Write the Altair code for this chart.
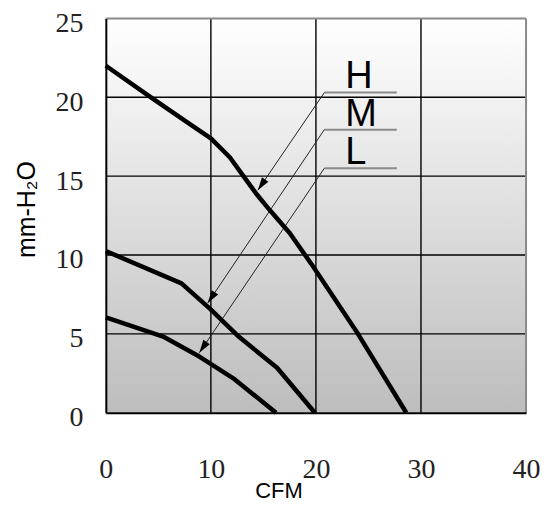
import math
import altair as alt
import pandas as pd

W, H = 421, 395

# fan curves (CFM vs mm-H2O)
h_cfm = [0, 4.5, 8.0, 10.0, 11.8, 13.1, 14.3, 15.6, 17.5, 19.7, 24.0, 28.6]
h_p = [22.0, 19.9, 18.3, 17.4, 16.2, 15.0, 13.9, 12.85, 11.4, 9.3, 5.0, 0.0]
m_cfm = [0, 7.2, 9.9, 12.7, 16.3, 19.9]
m_p = [10.25, 8.2, 6.6, 4.8, 2.85, 0.0]
l_cfm = [0, 5.45, 8.9, 12.1, 16.2]
l_p = [6.05, 4.83, 3.56, 2.2, 0.0]

# annotation labels / leaders
lab_names = ["H", "M", "L"]
lab_x = [22.8, 22.8, 22.8]
lab_y = [20.6, 18.2, 15.8]
lead_x0 = [20.8, 20.8, 20.8]
lead_x1 = [27.7, 27.7, 27.7]
lead_y = [20.3, 17.95, 15.5]
tip_x = [14.47, 9.7, 8.9]
tip_y = [14.11, 6.95, 3.8]

x_ticks = [0, 10, 20, 30, 40]
y_ticks = [0, 5, 10, 15, 20, 25]
x_grid = [10, 20, 30]
y_grid = [5, 10, 15, 20]

curves = pd.DataFrame(
    [{"s": "H", "x": a, "y": b, "o": i} for i, (a, b) in enumerate(zip(h_cfm, h_p))]
    + [{"s": "M", "x": a, "y": b, "o": i} for i, (a, b) in enumerate(zip(m_cfm, m_p))]
    + [{"s": "L", "x": a, "y": b, "o": i} for i, (a, b) in enumerate(zip(l_cfm, l_p))]
)

horiz = pd.DataFrame({"x": lead_x0, "x2": lead_x1, "y": lead_y, "y2": lead_y})
diag = pd.DataFrame({"x": lead_x0, "x2": tip_x, "y": lead_y, "y2": tip_y})

angs = []
for sx, sy, tx, ty in zip(lead_x0, lead_y, tip_x, tip_y):
    dxp = (tx - sx) * W / 40
    dyp = -(ty - sy) * H / 25
    angs.append(math.degrees(math.atan2(dxp, -dyp)) % 360)
heads = pd.DataFrame({"x": tip_x, "y": tip_y, "ang": angs})
labels = pd.DataFrame({"x": lab_x, "y": lab_y, "t": lab_names})

xs = alt.Scale(domain=[0, 40], nice=False, zero=False)
ys = alt.Scale(domain=[0, 25], nice=False, zero=False)

xaxis = alt.Axis(
    values=x_ticks, grid=False, ticks=False, tickSize=0, domainColor="black",
    domainWidth=2, labelFont="Liberation Serif", labelFontSize=28,
    labelColor="#222", labelPadding=65, labelBaseline="alphabetic",
    labelFlush=False, title="CFM", titleFont="Liberation Sans",
    titleFontSize=22, titleFontWeight="normal", titleColor="black",
    titleX=173, titleY=85, titleAlign="center", titleBaseline="alphabetic",
    zindex=1,
)
yaxis = alt.Axis(
    values=y_ticks, grid=False, ticks=False, tickSize=0, domainColor="black",
    domainWidth=2, labelFont="Liberation Serif", labelFontSize=28,
    labelColor="#222", labelPadding=23, labelBaseline="middle", labelOffset=5,
    title="mm-H₂O", titleFont="Liberation Sans", titleFontSize=25,
    titleFontWeight="normal", titleColor="black", titleX=-71, titleY=191,
    titleAngle=270, titleAlign="center", titleBaseline="alphabetic",
    zindex=1,
)

X = alt.X("x:Q", scale=xs, axis=xaxis)
Y = alt.Y("y:Q", scale=ys, axis=yaxis)

grad = alt.LinearGradient(
    gradient="linear",
    stops=[alt.GradientStop(color="#ffffff", offset=0),
           alt.GradientStop(color="#bdbdbd", offset=1)],
    x1=0, x2=0, y1=0, y2=1,
)

bg = alt.Chart(pd.DataFrame({"a": [0]})).mark_rect(fill=grad).encode(
    x=alt.value(0), x2=alt.value(W), y=alt.value(0), y2=alt.value(H)
)
border_top = alt.Chart(pd.DataFrame({"a": [0]})).mark_rule(
    color="#8a8a8a", strokeWidth=2
).encode(x=alt.value(0), x2=alt.value(W), y=alt.value(0))
border_right = alt.Chart(pd.DataFrame({"a": [0]})).mark_rule(
    color="#8a8a8a", strokeWidth=2
).encode(x=alt.value(W), y=alt.value(0), y2=alt.value(H))

vgrid = alt.Chart(pd.DataFrame({"x": x_grid})).mark_rule(
    color="black", strokeWidth=1.4
).encode(x=X)
hgrid = alt.Chart(pd.DataFrame({"y": y_grid})).mark_rule(
    color="black", strokeWidth=1.4
).encode(y=Y)

lines = alt.Chart(curves).mark_line(
    color="black", strokeWidth=4.5, strokeJoin="round", strokeCap="butt"
).encode(x=X, y=Y, detail="s:N", order="o:Q")

lead_h = alt.Chart(horiz).mark_rule(color="#8a8a8a", strokeWidth=2).encode(
    x=X, x2="x2:Q", y=Y, y2="y2:Q"
)
lead_d = alt.Chart(diag).mark_rule(color="#222", strokeWidth=1).encode(
    x=X, x2="x2:Q", y=Y, y2="y2:Q"
)
arrow = alt.Chart(heads).mark_point(
    shape="M0,0L0.6,2L-0.6,2Z", filled=True, color="black", opacity=1,
    size=169, strokeWidth=0,
).encode(x=X, y=Y, angle=alt.Angle("ang:Q", scale=None))

txt = alt.Chart(labels).mark_text(
    font="Liberation Sans", fontSize=38, align="left", baseline="alphabetic",
    color="black",
).encode(x=X, y=Y, text="t:N")

chart = alt.layer(
    bg, vgrid, hgrid, border_top, border_right, lead_h, lead_d, lines, arrow, txt
).properties(
    width=W, height=H,
    padding={"left": 98, "top": 10, "right": 20, "bottom": 99},
    autosize=alt.AutoSizeParams(type="none"),
).configure_view(stroke=None)

chart.save("out.html", embed_options={"renderer": "svg", "actions": False})
